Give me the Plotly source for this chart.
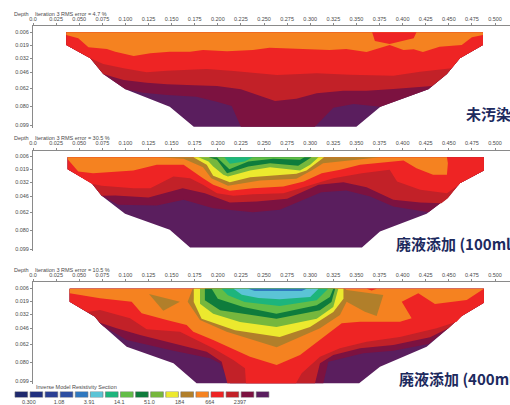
import plotly.graph_objects as go

W, H = 510, 405
FONT = "Liberation Sans, Arial, sans-serif"
CJK = "Noto Sans CJK JP"
TICK_COLOR = "#4a4a4a"
AXIS_COLOR = "#8a8a8a"
SMALL = 5.5

# ---------- colour scale ----------
SCALE_COLORS = ["#1f2a6e", "#20307f", "#2a3f94", "#2d4ea2", "#2f78bf", "#5bc4d6", "#1db57c", "#62bd47",
                "#0e7c3c", "#76b73d", "#ece92e", "#b17f2a", "#f58220", "#ee2424", "#c22128", "#7c1240", "#5a1e5e"]
SCALE_LABELS = ["0.300", "1.08", "3.91", "14.1", "51.0", "184", "664", "2397"]
BLUE, CYAN, TEAL, GREEN, DKGREEN, LIME, YELLOW, GOLD, ORANGE, RED, BRICK, MAROON, PURPLE = SCALE_COLORS[4:]

X_TICKS = [i * 0.025 for i in range(21)]
X_TICK_TEXT = ["0.0"] + [f"{v:.3f}" for v in X_TICKS[1:]]
DEPTH_TICKS = [0.006, 0.019, 0.032, 0.046, 0.062, 0.080, 0.099]

TITLES = ["Iteration 3 RMS error = 4.7 %", "Iteration 3 RMS error = 30.5 %", "Iteration 3 RMS error = 10.5 %"]
LABELS = ["未汚染", "廃液添加 (100ml)", "廃液添加 (400ml)"]

# ---------- panel 1: 未汚染 ----------
P1_ENV_X = [.036, .036, .062, .076, .100, .148, .174, .350, .376, .428, .448, .462, .487, .487]
P1_ENV_D = [.0063, .019, .0323, .048, .0633, .0807, .1007, .1007, .0807, .0633, .048, .0323, .019, .0063]
P1_MAROON_X = [.100, .119, .145, .177, .199, .215, .225, .305, .325, .347, .376]
P1_MAROON_D = [.0633, .0667, .069, .0707, .0757, .08, .1007, .1007, .0817, .078, .0807]
P1_BRICK_X = [.076, .098, .123, .145, .174, .199, .225, .242, .262, .285, .307, .336, .361, .390, .432]
P1_BRICK_D = [.048, .054, .0567, .0583, .0593, .06, .0633, .069, .075, .0727, .0673, .0647, .0647, .063, .06]
P1_RED_X = [.062, .076, .098, .123, .145, .188, .217, .242, .264, .289, .307, .343, .368, .390, .419, .453]
P1_RED_D = [.0323, .038, .0423, .0463, .0447, .043, .045, .0473, .049, .048, .0473, .0487, .0493, .0497, .0457, .0423]
P1_ORANGE_X = [.036, .049, .060, .080, .089, .109, .127, .148, .170, .184, .210, .238, .256, .282, .321, .339, .361,
               .386, .401, .412, .422, .440, .464, .475, .487]
P1_ORANGE_D = [.009, .0123, .0213, .023, .0257, .03, .0273, .0257, .0257, .024, .0253, .024, .0217, .0227, .024, .023,
               .026, .019, .024, .0233, .026, .0207, .019, .0113, .009]
P1_BLOB_X = [.367, .415, .412, .386, .370]
P1_BLOB_D = [.0063, .0063, .0123, .018, .015]

# ---------- panel 2: 100 ml ----------
P2_ENV_X = [.0375, .0375, .0635, .0743, .0996, .148, .170, .356, .3755, .426, .448, .462, .488, .488]
P2_ENV_D = [.0067, .0187, .0327, .0453, .0633, .0793, .097, .097, .081, .0633, .0477, .0327, .02, .0067]
P2_MAROON_X = [.0743, .092, .134, .163, .195, .238, .267, .289, .312, .339, .365, .390, .428]
P2_MAROON_D = [.0453, .0543, .055, .0493, .0577, .0617, .0593, .051, .0417, .04, .046, .056, .0617]
P2_BRICK_X = [.0743, .089, .125, .162, .186, .213, .242, .275, .309, .336, .361, .390, .419, .442, .449]
P2_BRICK_D = [.0453, .045, .047, .0377, .0427, .052, .051, .0483, .0343, .0317, .0367, .0493, .052, .0527, .0477]
P2_RED_X = [.0635, .0743, .1086, .127, .152, .170, .184, .199, .217, .238, .271, .296, .325, .356, .386, .394, .419, .448, .461]
P2_RED_D = [.0333, .0353, .0377, .0377, .026, .0277, .0343, .0427, .0453, .0437, .0427, .036, .0277, .0227, .0193, .031,
            .0393, .0427, .0343]
P2_ORANGE_X = [.0375, .049, .065, .083, .1086, .134, .163, .184, .195, .213, .238, .271, .293, .3125, .3325, .354, .401,
               .415, .433, .448, .449, .448]
P2_ORANGE_D = [.0087, .021, .0227, .0217, .02, .0143, .0143, .0277, .0343, .0403, .0377, .036, .031, .0227, .0193, .0143,
               .01, .0177, .0243, .0243, .0127, .0067]
P2_GOLD_X = [.1356, .163, .184, .193, .211, .2457, .285, .3015, .314, .3467, .3755]
P2_GOLD_D = [.0067, .0083, .0167, .0277, .0353, .03, .0283, .02, .0127, .0093, .0067]
P2_YELLOW_X = [.1735, .188, .195, .213, .235, .285, .296, .309, .315]
P2_YELLOW_D = [.0067, .0143, .0253, .0317, .0267, .0233, .02, .011, .0067]
P2_LIME_X = [.179, .190, .195, .206, .211, .235, .2565, .289, .300, .309]
P2_LIME_D = [.0067, .011, .016, .0243, .026, .02, .0167, .02, .0143, .0067]
P2_DKGREEN_X = [.190, .199, .204, .210, .233, .2565, .287, .298, .3015]
P2_DKGREEN_D = [.0067, .0093, .0153, .0227, .016, .0127, .0153, .0093, .0067]
P2_GREEN_X = [.199, .208, .2125, .233, .260, .289, .294]
P2_GREEN_D = [.0067, .0143, .0187, .011, .0083, .0093, .0067]
P2_TEAL_X = [.207, .238, .229, .213]
P2_TEAL_D = [.0067, .0067, .011, .0133]

# ---------- panel 3: 400 ml ----------
P3_ENV_X = [.0397, .0397, .067, .0725, .1014, .152, .177, .353, .3755, .426, .4495, .464, .488, .488]
P3_ENV_D = [.0067, .0197, .0347, .0413, .0647, .0813, .1013, .1013, .0847, .0647, .0463, .034, .0207, .0067]
P3_MAROON_X = [.0761, .1014, .152, .1916, .2024, .2132, .3142, .3196, .3575, .39, .428]
P3_MAROON_D = [.0442, .058, .0687, .0763, .0813, .1013, .1013, .0797, .0713, .0687, .062]
P3_BRICK_X = [.0725, .0905, .1158, .152, .188, .2042, .2103, .3052, .3106, .325, .354, .39, .4297, .4495]
P3_BRICK_D = [.0407, .0463, .053, .0613, .0697, .0797, .1013, .1013, .0813, .073, .0663, .063, .0553, .0463]
P3_RED_X = [.0588, .0725, .105, .123, .159, .195, .2168, .2294, .2305, .2846, .2908, .3106, .3322, .361, .397, .4368, .4585]
P3_RED_D = [.03, .028, .0363, .0473, .0497, .0663, .078, .0863, .1013, .1013, .0913, .0747, .0663, .0597, .055, .0463, .0397]
P3_ORANGE_X = [.0397, .0725, .1068, .1176, .1447, .1663, .1735, .195, .2349, .2637, .289, .3106, .3341, .354, .3972, .4098,
               .3991, .417, .435, .4694, .488]
P3_ORANGE_D = [.0113, .0163, .0197, .0313, .038, .043, .0497, .058, .0747, .083, .073, .058, .0413, .0397, .0397, .0363,
               .0197, .0113, .022, .018, .0073]
P3_GOLDBLOB_X = [.1255, .159, .141]
P3_GOLDBLOB_D = [.012, .0197, .0287]
P3_GOLD_X = [.1728, .1674, .1807, .2096, .2637, .3106, .3322, .3394, .3592, .3719, .3791, .3394, .3376]
P3_GOLD_D = [.0067, .0197, .038, .0497, .0653, .0463, .033, .0197, .0297, .034, .013, .008, .0067]
P3_YELLOW_X = [.174, .174, .1825, .2186, .267, .2998, .325, .336, .336]
P3_YELLOW_D = [.0067, .02, .0367, .0483, .055, .045, .03, .0167, .0067]
P3_LIME_X = [.1807, .1807, .195, .224, .2635, .307, .325, .3304]
P3_LIME_D = [.0067, .0217, .0317, .04, .045, .0367, .025, .0067]
P3_DKGREEN_X = [.186, .186, .2025, .2635, .3105, .323, .327]
P3_DKGREEN_D = [.0067, .0183, .0283, .0367, .0283, .02, .0067]
P3_GREEN_X = [.1934, .2, .2276, .2635, .307, .3213, .325]
P3_GREEN_D = [.0067, .0167, .025, .0317, .0233, .015, .0067]
P3_TEAL_X = [.204, .211, .229, .267, .307, .3195]
P3_TEAL_D = [.0067, .0133, .02, .024, .0183, .0067]
P3_CYAN_X = [.217, .226, .244, .267, .300, .309]
P3_CYAN_D = [.0067, .0127, .016, .0173, .015, .0067]
P3_BLUE_X = [.233, .240, .2908, .296]
P3_BLUE_D = [.0067, .009, .009, .0067]
P3_REDSPOT_X = [.3612, .3719, .3665]
P3_REDSPOT_D = [.0067, .0067, .0085]


def above(env_x, env_d, cx, cd):
    """Region of the section lying above a boundary curve."""
    n = len(env_x) // 2
    right = [(x, d) for x, d in zip(env_x[n:], env_d[n:]) if d < cd[-1] - 1e-6]
    left = [(x, d) for x, d in zip(env_x[:n], env_d[:n]) if d < cd[0] - 1e-6]
    px = list(cx) + [p[0] for p in right] + [p[0] for p in left]
    pd = list(cd) + [p[1] for p in right] + [p[1] for p in left]
    return px, pd


def band(panel, color, x, d):
    n = "" if panel == 1 else str(panel)
    return go.Scatter(x=list(x) + [x[0]], y=list(d) + [d[0]], xaxis="x" + n, yaxis="y" + n, mode="lines",
                      line=dict(width=0, color=color), fill="toself", fillcolor=color,
                      hoverinfo="skip", showlegend=False)


fig = go.Figure()

# panel 1
E = (P1_ENV_X, P1_ENV_D)
fig.add_trace(band(1, PURPLE, *E))
fig.add_trace(band(1, MAROON, *above(*E, P1_MAROON_X, P1_MAROON_D)))
fig.add_trace(band(1, BRICK, *above(*E, P1_BRICK_X, P1_BRICK_D)))
fig.add_trace(band(1, RED, *above(*E, P1_RED_X, P1_RED_D)))
fig.add_trace(band(1, ORANGE, *above(*E, P1_ORANGE_X, P1_ORANGE_D)))
fig.add_trace(band(1, RED, P1_BLOB_X, P1_BLOB_D))

# panel 2
E = (P2_ENV_X, P2_ENV_D)
fig.add_trace(band(2, PURPLE, *E))
fig.add_trace(band(2, MAROON, *above(*E, P2_MAROON_X, P2_MAROON_D)))
fig.add_trace(band(2, BRICK, *above(*E, P2_BRICK_X, P2_BRICK_D)))
fig.add_trace(band(2, RED, *above(*E, P2_RED_X, P2_RED_D)))
fig.add_trace(band(2, ORANGE, *above(*E, P2_ORANGE_X, P2_ORANGE_D)))
fig.add_trace(band(2, GOLD, P2_GOLD_X, P2_GOLD_D))
fig.add_trace(band(2, YELLOW, P2_YELLOW_X, P2_YELLOW_D))
fig.add_trace(band(2, LIME, P2_LIME_X, P2_LIME_D))
fig.add_trace(band(2, DKGREEN, P2_DKGREEN_X, P2_DKGREEN_D))
fig.add_trace(band(2, GREEN, P2_GREEN_X, P2_GREEN_D))
fig.add_trace(band(2, TEAL, P2_TEAL_X, P2_TEAL_D))

# panel 3
E = (P3_ENV_X, P3_ENV_D)
fig.add_trace(band(3, PURPLE, *E))
fig.add_trace(band(3, MAROON, *above(*E, P3_MAROON_X, P3_MAROON_D)))
fig.add_trace(band(3, BRICK, *above(*E, P3_BRICK_X, P3_BRICK_D)))
fig.add_trace(band(3, RED, *above(*E, P3_RED_X, P3_RED_D)))
fig.add_trace(band(3, ORANGE, *above(*E, P3_ORANGE_X, P3_ORANGE_D)))
fig.add_trace(band(3, GOLD, P3_GOLDBLOB_X, P3_GOLDBLOB_D))
fig.add_trace(band(3, GOLD, P3_GOLD_X, P3_GOLD_D))
fig.add_trace(band(3, YELLOW, P3_YELLOW_X, P3_YELLOW_D))
fig.add_trace(band(3, LIME, P3_LIME_X, P3_LIME_D))
fig.add_trace(band(3, DKGREEN, P3_DKGREEN_X, P3_DKGREEN_D))
fig.add_trace(band(3, GREEN, P3_GREEN_X, P3_GREEN_D))
fig.add_trace(band(3, TEAL, P3_TEAL_X, P3_TEAL_D))
fig.add_trace(band(3, CYAN, P3_CYAN_X, P3_CYAN_D))
fig.add_trace(band(3, BLUE, P3_BLUE_X, P3_BLUE_D))
fig.add_trace(band(3, RED, P3_REDSPOT_X, P3_REDSPOT_D))

# colour scale swatches
SWATCH_POS = list(range(len(SCALE_COLORS)))
fig.add_trace(go.Bar(x=SWATCH_POS, y=[1] * len(SWATCH_POS), xaxis="x4", yaxis="y4", width=0.84,
                     marker=dict(color=SCALE_COLORS, line=dict(color="#6f6f6f", width=0.6)),
                     hoverinfo="skip", showlegend=False))

layout = dict(width=W, height=H, autosize=False, margin=dict(l=0, r=0, t=0, b=0, pad=0),
              template="none", paper_bgcolor="white", plot_bgcolor="white", showlegend=False,
              font=dict(family=FONT, size=SMALL, color=TICK_COLOR))

tops = [26, 150.5, 282]
bottoms = [127.5, 251, 384]
label_y = [114, 243, 378]
label_x = [464, 394, 397]
x_left = 33
anns = []
for i in range(3):
    n = "" if i == 0 else str(i + 1)
    layout["xaxis" + n] = dict(domain=[x_left / W, 1], range=[0, (W - x_left) / 924], anchor="y" + n, side="top",
                               automargin=False, tickvals=X_TICKS, ticktext=X_TICK_TEXT, ticks="outside", ticklen=2,
                               tickwidth=0.7, tickcolor=AXIS_COLOR, showline=True, linecolor=AXIS_COLOR, linewidth=1,
                               showgrid=False, zeroline=False, tickfont=dict(size=SMALL, color=TICK_COLOR), tickangle=0)
    layout["yaxis" + n] = dict(domain=[1 - bottoms[i] / H, 1 - tops[i] / H], range=[(bottoms[i] - tops[i]) / 1000, 0],
                               anchor="x" + n, automargin=False, tickvals=DEPTH_TICKS,
                               ticktext=[f"{v:.3f}" for v in DEPTH_TICKS], ticks="outside", ticklen=2, tickwidth=0.7,
                               tickcolor=AXIS_COLOR, showline=True, linecolor=AXIS_COLOR, linewidth=1, showgrid=False,
                               zeroline=False, tickfont=dict(size=SMALL, color=TICK_COLOR))
    anns.append(dict(text="Depth", xref="paper", yref="paper", x=12 / W, y=1 - (tops[i] - 12) / H, xanchor="left",
                     yanchor="middle", showarrow=False, font=dict(size=SMALL, color=TICK_COLOR)))
    anns.append(dict(text=TITLES[i], xref="paper", yref="paper", x=33 / W, y=1 - (tops[i] - 12) / H, xanchor="left",
                     yanchor="middle", showarrow=False, font=dict(size=SMALL, color=TICK_COLOR)))
    anns.append(dict(text=f"<b>{LABELS[i]}</b>", xref="paper", yref="paper", x=label_x[i] / W, y=1 - label_y[i] / H,
                     xanchor="left", yanchor="middle", showarrow=False,
                     font=dict(family=CJK, size=15, color="#1d2a5e")))

# scale axes
c0, step = 21.3, 15.08
layout["xaxis4"] = dict(domain=[(c0 - step / 2) / W, (c0 + step * 16.5) / W], range=[-0.5, 16.5], anchor="y4",
                        automargin=False, tickvals=[0.5 + 2 * k for k in range(len(SCALE_LABELS))],
                        ticktext=SCALE_LABELS, ticks="", showline=False, showgrid=False, zeroline=False,
                        tickfont=dict(size=SMALL, color=TICK_COLOR), tickangle=0)
layout["yaxis4"] = dict(domain=[1 - 397.5 / H, 1 - 391.5 / H], range=[0, 1], anchor="x4", visible=False)
anns.append(dict(text="Inverse Model Resistivity Section", xref="paper", yref="paper", x=34 / W, y=1 - 387 / H,
                 xanchor="left", yanchor="middle", showarrow=False, font=dict(size=SMALL, color=TICK_COLOR)))
layout["annotations"] = anns
fig.update_layout(**layout)
fig.write_html("out.html", config=dict(displayModeBar=False),
               post_script="document.body.style.margin='0';")
